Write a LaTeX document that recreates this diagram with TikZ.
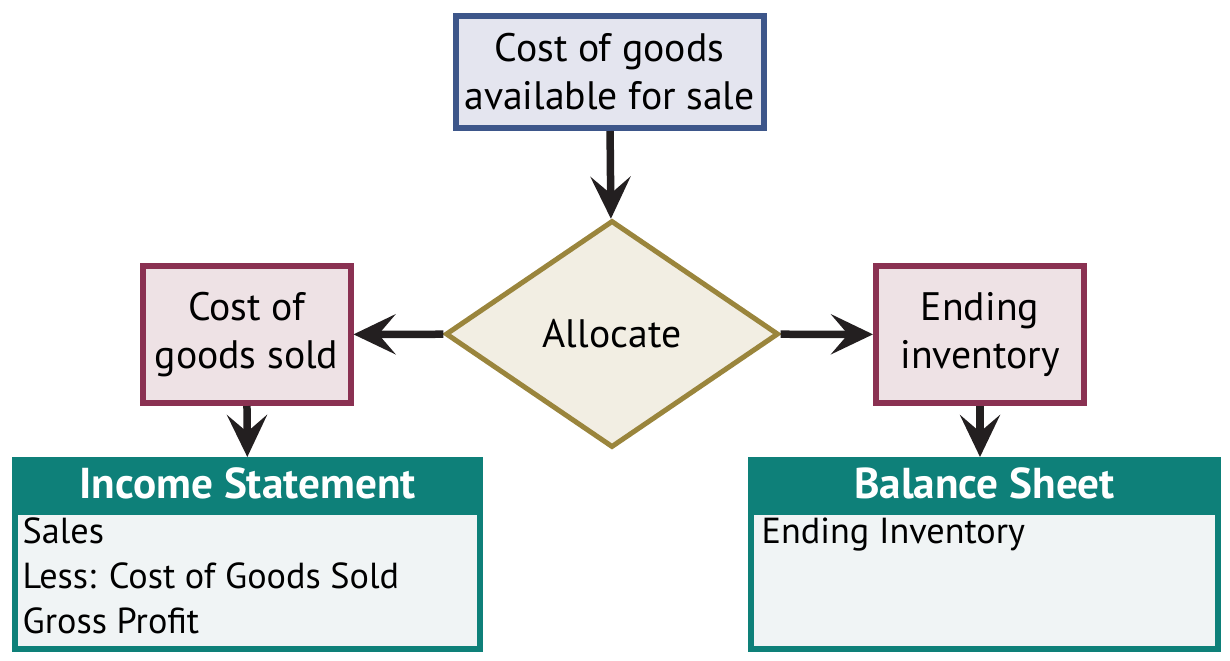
\documentclass[tikz,border=0pt]{standalone}
\usepackage{fontspec}
\setmainfont{PT Sans}
\usetikzlibrary{positioning,shapes.geometric,arrows.meta}

\definecolor{topline}{HTML}{3D568A}
\definecolor{topfill}{HTML}{E4E5EF}
\definecolor{diamline}{HTML}{9A853C}
\definecolor{diamfill}{HTML}{F2EEE3}
\definecolor{midline}{HTML}{8A3152}
\definecolor{midfill}{HTML}{EEE2E5}
\definecolor{stmtteal}{HTML}{0E8079}
\definecolor{stmtfill}{HTML}{F0F4F5}
\definecolor{arrowcol}{HTML}{231F20}

\tikzset{
  flow/.style={draw=arrowcol, line width=0.075cm,
    -{Stealth[length=0.42cm,width=0.40cm,inset=0.17cm]}},
  boxtext/.style={align=center, font=\fontsize{11.3}{13.7}\selectfont},
  topbox/.style={boxtext, rectangle, draw=topline, fill=topfill,
    line width=0.06cm, minimum width=3.08cm, minimum height=1.12cm,
    inner xsep=0.05cm},
  midbox/.style={boxtext, rectangle, draw=midline, fill=midfill,
    line width=0.06cm, minimum width=2.08cm, minimum height=1.37cm},
  decide/.style={boxtext, diamond, draw=diamline, fill=diamfill,
    line width=0.05cm, minimum width=3.33cm, minimum height=2.27cm,
    inner sep=0pt},
  headbox/.style={rectangle, fill=stmtteal, text=white, outer sep=0pt,
    minimum height=0.52cm, inner sep=0pt,
    font=\fontsize{12.3}{13.7}\selectfont\bfseries},
  bodybox/.style={rectangle, draw=stmtteal, fill=stmtfill,
    line width=0.06cm, minimum height=1.37cm},
  listtext/.style={align=left, inner sep=0pt, anchor=north west,
    font=\fontsize{10.3}{12.8}\selectfont}
}

\begin{document}
\begin{tikzpicture}
  \useasboundingbox (0,0) rectangle (12.3,6.6);

  \node[topbox] (avail) at (6.095,5.88) {Cost of goods\\available for sale};
  \node[decide] (alloc) at (6.12,3.26) {Allocate};
  \node[midbox] (cogs) at (2.465,3.255) {Cost of\\goods sold};
  \node[midbox] (endinv) at (9.80,3.255) {Ending\\inventory};

  % income statement
  \node[headbox, minimum width=4.71cm] (incHead) at (2.475,1.77) {Income Statement};
  \node[bodybox, minimum width=4.65cm, below=0pt of incHead] (incBody) {};
  \node[listtext] (incList) at ([xshift=0.10cm,yshift=-0.08cm]incBody.north west)
    {Sales\\Less: Cost of Goods Sold\\Gross Profit};

  % balance sheet
  \node[headbox, minimum width=4.73cm] (balHead) at (9.845,1.77) {Balance Sheet};
  \node[bodybox, minimum width=4.67cm, below=0pt of balHead] (balBody) {};
  \node[listtext] (balList) at ([xshift=0.13cm,yshift=-0.08cm]balBody.north west)
    {Ending Inventory};

  \draw[flow] (avail) -- (alloc);
  \draw[flow] (alloc) -- (cogs);
  \draw[flow] (alloc) -- (endinv);
  \draw[flow] (cogs) -- (incHead);
  \draw[flow] (endinv.south) -- (endinv.south |- balHead.north);
\end{tikzpicture}
\end{document}
